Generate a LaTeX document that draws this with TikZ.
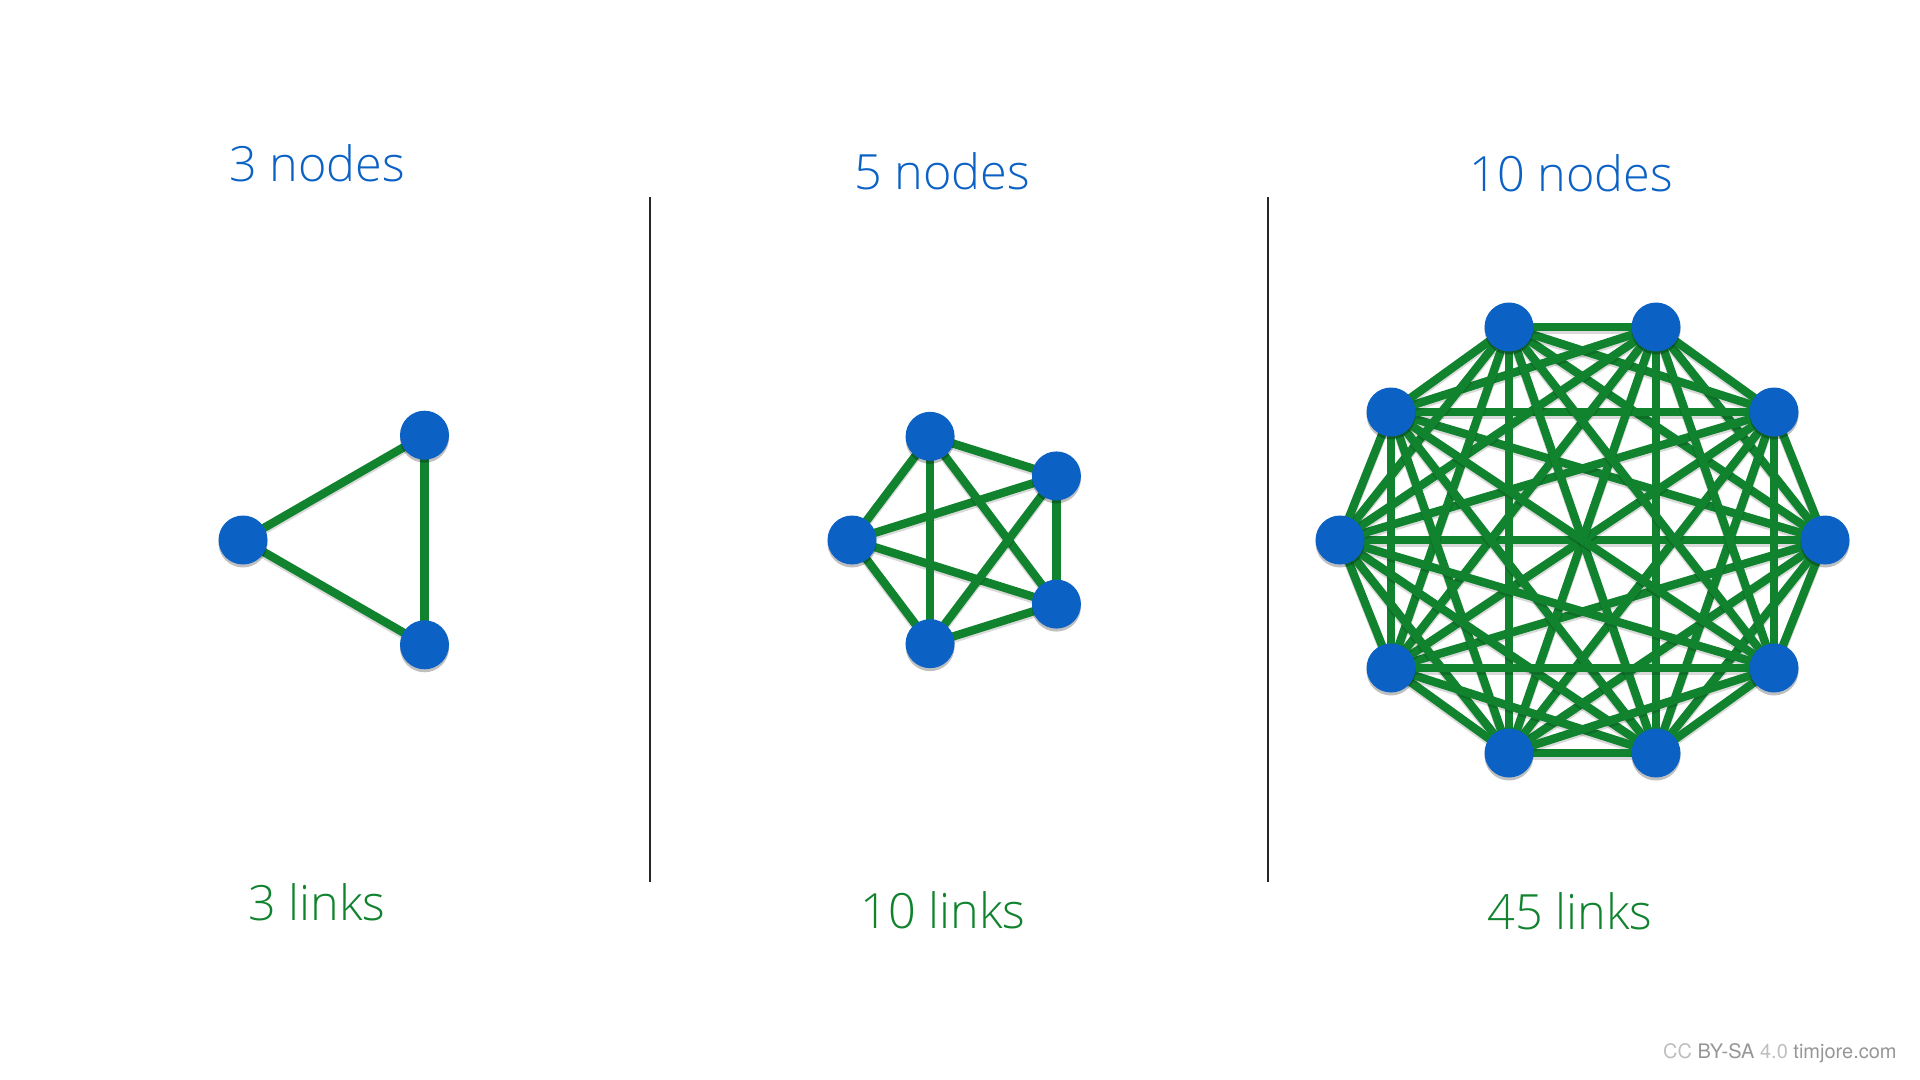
\documentclass[tikz,border=0pt]{standalone}
\usepackage{fontspec}
\setmainfont{TeX Gyre Heros}
\newfontfamily\lightfont{Open Sans}[UprightFont=* Light]
\usetikzlibrary{backgrounds,shadows}

\definecolor{nodeblue}{RGB}{12,98,196}
\definecolor{linkgreen}{RGB}{17,130,46}
\definecolor{creditlight}{RGB}{190,190,190}
\definecolor{creditdark}{RGB}{150,150,150}

\tikzset{
  vertex/.style={circle,fill=nodeblue,minimum size=24.5pt,inner sep=0pt,
    drop shadow={shadow xshift=0pt,shadow yshift=-1.5pt,opacity=0.25,fill=black}},
  link/.style={linkgreen,line width=4.2pt},
  linkshadow/.style={black,opacity=0.15,line width=4.2pt,transform canvas={yshift=-1.2pt}},
  divider/.style={black!85,line width=0.75pt},
  nodecount/.style={text=nodeblue,font=\lightfont\fontsize{24.3}{28}\selectfont},
  linkcount/.style={text=linkgreen,font=\lightfont\fontsize{24.3}{28}\selectfont},
}

\begin{document}
\begin{tikzpicture}[x=0.5pt,y=-0.5pt]
  \useasboundingbox (0,0) rectangle (1920,1080);

  % titles
  \node[nodecount] (title3) at (317,163) {3 nodes};
  \node[nodecount] (title5) at (942,171) {5 nodes};
  \node[nodecount] (title10) at (1571,173) {10 nodes};
  \node[linkcount] (sum3) at (317,902) {3 links};
  \node[linkcount] (sum5) at (943,910) {10 links};
  \node[linkcount] (sum10) at (1570,911) {45 links};

  % dividers
  \draw[divider] (650,197) -- (650,882);
  \draw[divider] (1268,197) -- (1268,882);

  % triangle
  \foreach \i in {1,...,3}
    \node[vertex] (t\i) at ({364+121*cos(180-120*(\i-1))},{540-121*sin(180-120*(\i-1))}) {};
  % pentagon
  \foreach \i in {1,...,5}
    \node[vertex] (p\i) at ({965+113*cos(180-72*(\i-1))},{540-109*sin(180-72*(\i-1))}) {};
  % decagon
  \foreach \x/\y [count=\i] in {1825/540,1774/412,1656/327,1509/327,1391/412,
                                1340/540,1391/668,1509/753,1656/753,1774/668}
    \node[vertex] (d\i) at (\x,\y) {};

  \begin{pgfonlayer}{background}
    \foreach \i in {1,...,2} {
      \pgfmathtruncatemacro\k{\i+1}
      \foreach \j in {\k,...,3} {
        \draw[linkshadow] (t\i.center) -- (t\j.center);
        \draw[link] (t\i.center) -- (t\j.center);
      }
    }
    \foreach \i in {1,...,4} {
      \pgfmathtruncatemacro\k{\i+1}
      \foreach \j in {\k,...,5} {
        \draw[linkshadow] (p\i.center) -- (p\j.center);
        \draw[link] (p\i.center) -- (p\j.center);
      }
    }
    \foreach \i in {1,...,9} {
      \pgfmathtruncatemacro\k{\i+1}
      \foreach \j in {\k,...,10} {
        \draw[linkshadow] (d\i.center) -- (d\j.center);
        \draw[link] (d\i.center) -- (d\j.center);
      }
    }
  \end{pgfonlayer}

  % credit
  \node[font=\fontsize{10}{12}\selectfont,anchor=east,inner sep=0pt] (credit) at (1897,1053)
    {\textcolor{creditlight}{CC} \textcolor{creditdark}{BY-SA} \textcolor{creditlight}{4.0} \textcolor{creditdark}{timjore.com}};
\end{tikzpicture}
\end{document}
